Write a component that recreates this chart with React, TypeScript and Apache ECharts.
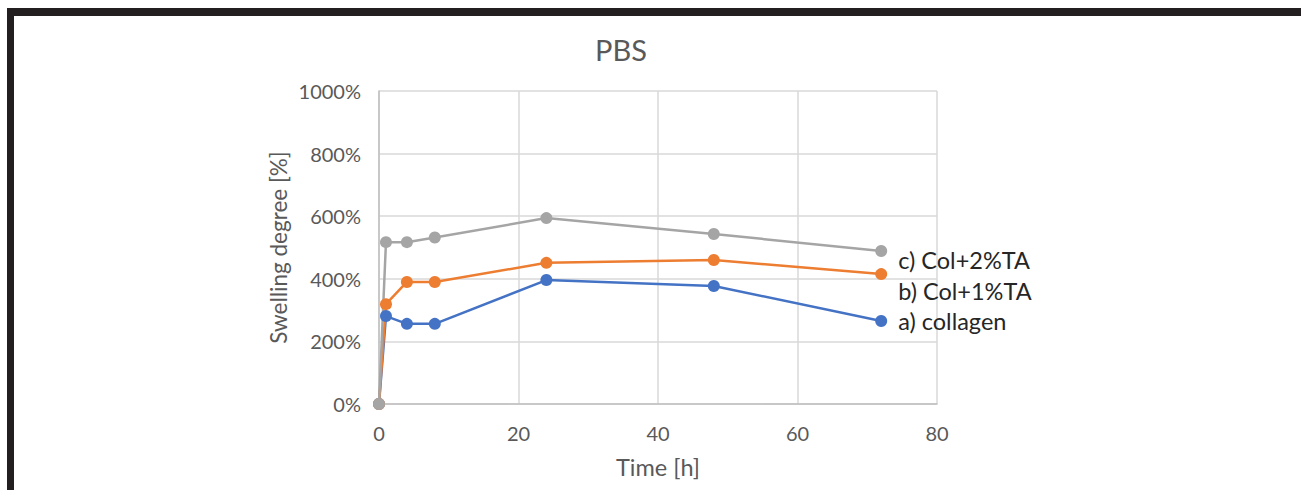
import React, { useEffect, useRef } from "react";
import * as echarts from "echarts";

const timeHours = [0, 1, 4, 8, 24, 48, 72];
const collagen = [0, 281, 256, 256, 396, 377, 265];
const col1TA = [0, 319, 390, 390, 451, 460, 415];
const col2TA = [0, 517, 517, 532, 594, 543, 489];
const seriesNames = ["a) collagen", "b) Col+1%TA", "c) Col+2%TA"];
const seriesColors = ["#4472C4", "#ED7D31", "#A5A5A5"];
const labelOffsets = [0, 17, 9];

const FONT = "Lato, 'Open Sans', sans-serif";

export default function App() {
  const ref = useRef<HTMLDivElement>(null);
  useEffect(() => {
    if (!ref.current) return;
    const chart = echarts.init(ref.current, undefined, { renderer: "svg" });
    const all = [collagen, col1TA, col2TA];
    chart.setOption({
      animation: false,
      backgroundColor: "#ffffff",
      title: {
        text: "PBS",
        left: 616,
        top: 30,
        textAlign: "center",
        textStyle: { color: "#595959", fontSize: 29, fontWeight: "normal", fontFamily: FONT },
      },
      grid: { left: 379, right: 364, top: 91, bottom: 86, show: false },
      xAxis: {
        type: "value",
        min: 0,
        max: 80,
        interval: 20,
        name: "Time [h]",
        nameLocation: "middle",
        nameGap: 51,
        nameTextStyle: { color: "#595959", fontSize: 23.5, fontFamily: FONT },
        axisLine: { show: true, lineStyle: { color: "#bfbfbf", width: 1.5 } },
        axisTick: { show: false },
        axisLabel: { color: "#595959", fontSize: 20, margin: 19, fontFamily: FONT },
        splitLine: { show: true, lineStyle: { color: "#d9d9d9", width: 1.5 } },
      },
      yAxis: {
        type: "value",
        min: 0,
        max: 1000,
        interval: 200,
        name: "Swelling degree [%]",
        nameLocation: "middle",
        nameGap: 89,
        nameTextStyle: { color: "#595959", fontSize: 22.5, fontFamily: FONT },
        axisLine: { show: true, lineStyle: { color: "#bfbfbf", width: 1.5 } },
        axisTick: { show: false },
        axisLabel: {
          color: "#595959",
          fontSize: 20,
          margin: 18,
          formatter: (v: number) => `${v}%`,
          fontFamily: FONT,
        },
        splitLine: { show: true, lineStyle: { color: "#d9d9d9", width: 1.5 } },
      },
      series: all.map((vals, i) => ({
        name: seriesNames[i],
        type: "line",
        data: timeHours.map((t, j) => [t, vals[j]]),
        symbol: "circle",
        symbolSize: 12,
        lineStyle: { color: seriesColors[i], width: 2.5 },
        itemStyle: { color: seriesColors[i] },
        endLabel: {
          show: true,
          formatter: "{a}",
          color: "#262626",
          fontSize: 23.5,
          fontFamily: FONT,
          distance: 17,
          offset: [0, labelOffsets[i]],
        },
      })),
      graphic: [
        { type: "rect", shape: { x: 7, y: 8, width: 1294, height: 8 }, style: { fill: "#231f20" } },
        { type: "rect", shape: { x: 7, y: 8, width: 7, height: 482 }, style: { fill: "#231f20" } },
      ],
    });
    return () => chart.dispose();
  }, []);
  return (
    <div
      ref={ref}
      style={{ position: "absolute", left: 0, top: 0, width: 1301, height: 490 }}
    />
  );
}
